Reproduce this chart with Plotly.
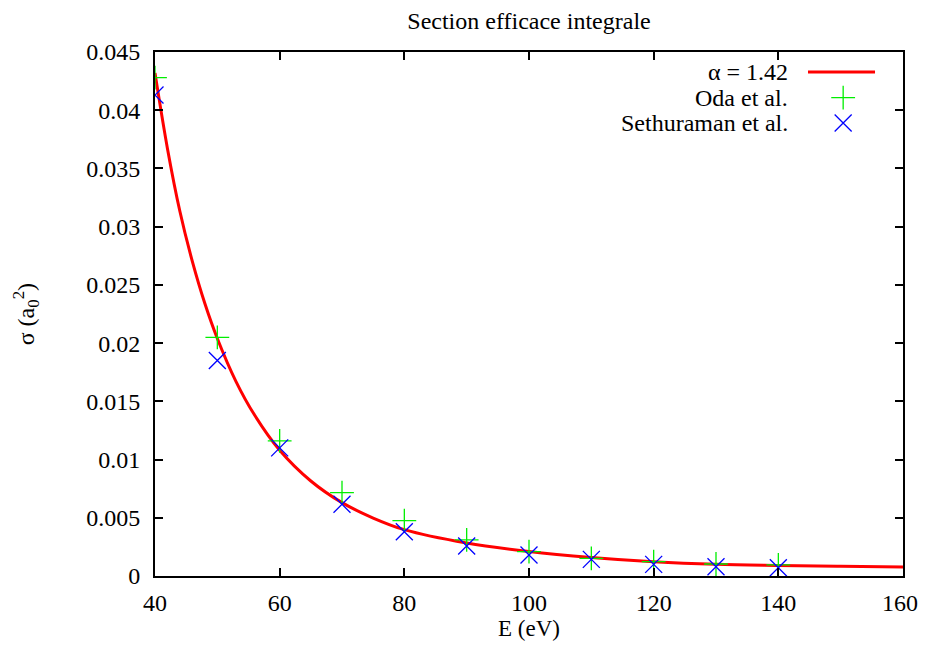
import plotly.graph_objects as go

# Data
energy_points = [40, 50, 60, 70, 80, 90, 100, 110, 120, 130, 140]
oda_values = [0.0428, 0.0205, 0.0116, 0.00716, 0.00475, 0.0031, 0.00209, 0.00152, 0.00123, 0.00103, 0.00095]
sethuraman_values = [0.0413, 0.0185, 0.0110, 0.00616, 0.0038, 0.00258, 0.0018, 0.00143, 0.0010, 0.0008, 0.00071]

fit_energy = [40, 42, 44, 46, 48, 50, 53, 56, 60, 65, 70, 75, 80, 90, 100, 110, 120, 130, 140, 150, 160]
fit_values = [0.0432, 0.0367, 0.0313, 0.0270, 0.0234, 0.0204, 0.0167, 0.0138, 0.0108, 0.00816,
              0.0063, 0.00498, 0.00398, 0.00283, 0.00210, 0.00159, 0.00122, 0.00100, 0.00090,
              0.00083, 0.00077]

x_tick_values = [40, 60, 80, 100, 120, 140, 160]
x_tick_labels = ["40", "60", "80", "100", "120", "140", "160"]

legend_labels = ["\u03b1 = 1.42", "Oda et al.", "Sethuraman et al."]

FONT = "Liberation Serif"
FS = 24
RED = "#ff0000"
GREEN = "#00ee00"
BLUE = "#0000ff"

fig = go.Figure()

fig.add_trace(go.Scatter(x=fit_energy, y=fit_values, mode="lines",
                         line=dict(color=RED, width=3, shape="spline", smoothing=1.0),
                         showlegend=False))
fig.add_trace(go.Scatter(x=energy_points, y=oda_values, mode="markers",
                         marker=dict(symbol="cross-thin-open", size=17, color=GREEN,
                                     line=dict(color=GREEN, width=1.3)),
                         showlegend=False))
fig.add_trace(go.Scatter(x=energy_points, y=sethuraman_values, mode="markers",
                         marker=dict(symbol="x-thin-open", size=17, color=BLUE,
                                     line=dict(color=BLUE, width=1.3)),
                         showlegend=False))

# Custom gnuplot-style legend (text on the left, sample on the right) on an overlay axis
leg_rows = [0.962, 0.913, 0.8645]
fig.add_trace(go.Scatter(x=[0.873, 0.9626], y=[leg_rows[0], leg_rows[0]], mode="lines",
                         line=dict(color=RED, width=3), xaxis="x2", yaxis="y2",
                         showlegend=False, hoverinfo="skip"))
fig.add_trace(go.Scatter(x=[0.92], y=[leg_rows[1]], mode="markers",
                         marker=dict(symbol="cross-thin-open", size=17, color=GREEN,
                                     line=dict(color=GREEN, width=1.3)),
                         xaxis="x2", yaxis="y2", showlegend=False, hoverinfo="skip"))
fig.add_trace(go.Scatter(x=[0.92], y=[leg_rows[2]], mode="markers",
                         marker=dict(symbol="x-thin-open", size=17, color=BLUE,
                                     line=dict(color=BLUE, width=1.3)),
                         xaxis="x2", yaxis="y2", showlegend=False, hoverinfo="skip"))

annotations = []
for lbl, yy in zip(legend_labels, leg_rows):
    annotations.append(dict(text=lbl, x=0.849, y=yy, xref="paper", yref="paper",
                            xanchor="right", yanchor="middle", showarrow=False,
                            font=dict(family=FONT, size=FS, color="black")))
annotations.append(dict(text="E (eV)", x=0.5, y=-0.101, xref="paper", yref="paper",
                        xanchor="center", yanchor="middle", showarrow=False,
                        font=dict(family=FONT, size=23, color="black")))
annotations.append(dict(text="\u03c3 (a<sub>0</sub><sup>2</sup>)", x=-0.172, y=0.5,
                        xref="paper", yref="paper", xanchor="center", yanchor="middle",
                        textangle=-90, showarrow=False,
                        font=dict(family=FONT, size=FS, color="black")))
# last x tick label sits at the page edge: draw it nudged inward so it is not clipped
annotations.append(dict(text=x_tick_labels[-1], x=x_tick_values[-1], xref="x",
                        y=-0.0515, yref="paper", xanchor="center", yanchor="middle",
                        xshift=-3, showarrow=False,
                        font=dict(family=FONT, size=FS, color="black")))

axis_common = dict(showgrid=False, zeroline=False, ticks="inside", ticklen=8, tickwidth=1.5,
                   tickcolor="black", showline=True, linecolor="black", linewidth=2,
                   mirror="ticks", automargin=False,
                   tickfont=dict(family=FONT, size=FS, color="black"))

# page body has an 8px margin on each side; keep the page free of scrollbars
W, H = 910, 634
fig.update_layout(
    width=W, height=H,
    paper_bgcolor="white", plot_bgcolor="white",
    margin=dict(l=147, r=15, t=44, b=66, autoexpand=False),
    title=dict(text="Section efficace integrale", x=521 / W, xref="container",
               y=1 - 13 / H, yref="container", xanchor="center", yanchor="middle",
               font=dict(family=FONT, size=FS, color="black")),
    xaxis=dict(range=[40, 160], tickvals=x_tick_values,
               ticktext=x_tick_labels[:-1] + [""], ticklabelstandoff=4, **axis_common),
    yaxis=dict(range=[0, 0.045], dtick=0.005, tick0=0, tickformat="~g",
               ticklabelstandoff=8, **axis_common),
    xaxis2=dict(range=[0, 1], overlaying="x", visible=False, fixedrange=True),
    yaxis2=dict(range=[0, 1], overlaying="y", visible=False, fixedrange=True),
    annotations=annotations,
    showlegend=False,
)

fig.write_html("out.html")
